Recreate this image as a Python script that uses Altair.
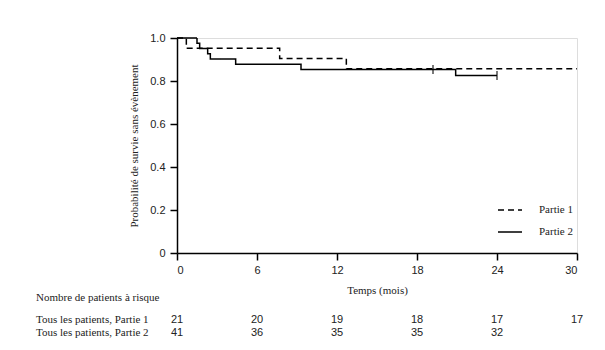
import altair as alt
import pandas as pd

# Kaplan-Meier step data
p1_time = [0, 0.7, 7.7, 12.7, 30]
p1_surv = [1.0, 0.952, 0.905, 0.857, 0.857]
p2_time = [0, 1.5, 1.7, 2.3, 2.5, 4.4, 9.3, 20.9, 24.0]
p2_surv = [1.0, 0.976, 0.951, 0.927, 0.902, 0.878, 0.854, 0.826, 0.826]

# censor marks (Partie 2)
cens_time = [19.2, 24.0]
cens_surv = [0.854, 0.826]

# number at risk
risk_times = [0, 6, 12, 18, 24, 30]
risk_p1 = [21, 20, 19, 18, 17, 17]
risk_p2 = [41, 36, 35, 35, 32]

series = ["Partie 1", "Partie 2"]

curves = pd.DataFrame(
    {"t": p1_time, "s": p1_surv, "g": series[0]}
)
curves = pd.concat([curves, pd.DataFrame({"t": p2_time, "s": p2_surv, "g": series[1]})], ignore_index=True)
cens = pd.DataFrame({"t": cens_time, "s": cens_surv})
r1 = pd.DataFrame({"t": risk_times, "n": risk_p1})
r2 = pd.DataFrame({"t": risk_times[: len(risk_p2)], "n": risk_p2})

SERIF = "Liberation Serif"
SANS = "Liberation Sans"

xscale = alt.Scale(domain=[0, 30], nice=False, zero=False)
yscale = alt.Scale(domain=[0, 1], nice=False)

xaxis = alt.Axis(
    values=[0, 6, 12, 18, 24, 30], title="Temps (mois)", grid=False,
    domainColor="black", domainWidth=1.5, tickColor="black", tickWidth=1.5,
    tickSize=7, labelFont=SANS, labelFontSize=11, labelColor="#222",
    labelPadding=4, titleFont=SERIF, titleFontSize=11, titleFontWeight="normal",
    titleColor="#222", titlePadding=9,
)
yaxis = alt.Axis(
    values=[0, 0.2, 0.4, 0.6, 0.8, 1.0], title="Probabilité de survie sans évènement",
    grid=False, domainColor="black", domainWidth=1.5, tickColor="black",
    tickWidth=1.5, tickSize=7, labelFont=SANS, labelFontSize=11, labelColor="#222",
    labelPadding=5, labelExpr="datum.value == 0 ? '0' : format(datum.value, '.1f')",
    titleFont=SERIF, titleFontSize=11, titleFontWeight="normal", titleColor="#222",
    titlePadding=10,
)

lines = alt.Chart(curves).mark_line(interpolate="step-after", color="black", strokeWidth=1.5).encode(
    x=alt.X("t:Q", scale=xscale, axis=xaxis),
    y=alt.Y("s:Q", scale=yscale, axis=yaxis),
    strokeDash=alt.StrokeDash(
        "g:N",
        scale=alt.Scale(domain=series, range=[[6, 4], [1, 0]]),
        legend=alt.Legend(
            title=None, orient="none", legendX=320, legendY=159, padding=0,
            symbolType="stroke", symbolSize=576, symbolStrokeWidth=1.5,
            symbolStrokeColor="black", labelFont=SERIF, labelFontSize=11,
            labelColor="#222", labelOffset=16, rowPadding=4,
        ),
    ),
)

ticks = alt.Chart(cens).mark_tick(orient="vertical", color="black", size=9, thickness=1.5).encode(
    x=alt.X("t:Q", scale=xscale),
    y=alt.Y("s:Q", scale=yscale),
)

row_y1 = 282
row_y2 = 295

t1 = alt.Chart(r1).mark_text(font=SANS, fontSize=11, color="#222", baseline="middle").encode(
    x=alt.X("t:Q", scale=xscale), y=alt.value(row_y1), text="n:Q"
)
t2 = alt.Chart(r2).mark_text(font=SANS, fontSize=11, color="#222", baseline="middle").encode(
    x=alt.X("t:Q", scale=xscale), y=alt.value(row_y2), text="n:Q"
)

lab = pd.DataFrame({"txt": ["Nombre de patients à risque", "Tous les patients, Partie 1", "Tous les patients, Partie 2"],
                    "row": [0, 1, 2]})
lab0 = alt.Chart(lab[lab.row == 0]).mark_text(font=SERIF, fontSize=11, color="#222", align="left", baseline="middle").encode(
    x=alt.value(-141), y=alt.value(260), text="txt:N")
lab1 = alt.Chart(lab[lab.row == 1]).mark_text(font=SERIF, fontSize=11, color="#222", align="left", baseline="middle").encode(
    x=alt.value(-141), y=alt.value(row_y1), text="txt:N")
lab2 = alt.Chart(lab[lab.row == 2]).mark_text(font=SERIF, fontSize=11, color="#222", align="left", baseline="middle").encode(
    x=alt.value(-141), y=alt.value(row_y2), text="txt:N")

chart = (
    alt.layer(lines, ticks, t1, t2, lab0, lab1, lab2)
    .properties(
        width=400, height=215,
        autosize=alt.AutoSizeParams(type="none"),
        padding={"left": 177, "top": 38, "right": 28, "bottom": 97},
    )
    .configure_view(stroke=None)
    .configure(background="white")
)

chart.save("out.html", embed_options={"renderer": "svg", "actions": False})
